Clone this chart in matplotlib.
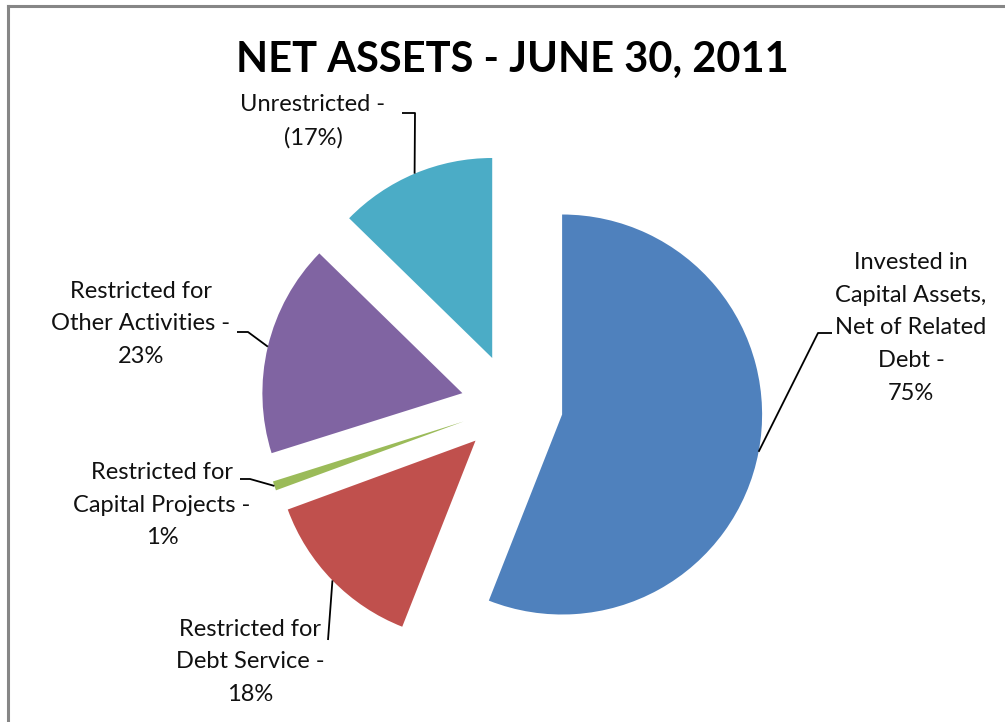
import numpy as np
import matplotlib
matplotlib.use("Agg")
import matplotlib.pyplot as plt
from matplotlib.lines import Line2D

plt.rcParams['font.family'] = ['Lato', 'DejaVu Sans']

# Net asset components (percent of total; unrestricted is a deficit, drawn by size)
categories = ['Invested in\nCapital Assets,\nNet of Related\nDebt -',
              'Restricted for\nDebt Service -',
              'Restricted for\nCapital Projects -',
              'Restricted for\nOther Activities -',
              'Unrestricted -']
values = [75, 18, 1, 23, -17]
colors = ['#4F81BD', '#C0504D', '#9BBB59', '#8064A2', '#4BACC6']

W, H = 1005, 722
CX, CY, R = 512, 405, 200   # pie centre / radius in pixels


def px(x, y):
    # pixel position (top-left origin) -> axes data units (radius = 1)
    return (x - CX) / R, (CY - y) / R


fig = plt.figure(figsize=(W / 100, H / 100), dpi=100)
ax = fig.add_axes([0, 0, 1, 1])

sizes = [abs(v) for v in values]
wedges, _ = ax.pie(sizes, colors=colors, startangle=90, counterclock=False,
                   explode=[0.255] * len(sizes), radius=1,
                   wedgeprops=dict(linewidth=0))

# pie() sets its own limits, so fix them afterwards
ax.set_xlim(-CX / R, (W - CX) / R)
ax.set_ylim((CY - H) / R, CY / R)
ax.set_aspect('equal')
ax.axis('off')

# label block centres (pixels)
label_pos = [(911, 328), (250, 662), (162, 505), (141, 324), (313, 121)]
# leader path points from text to the slice (pixels)
leader_pts = [[(832, 333), (818, 333)],
              [(328, 640)],
              [(240, 479), (250, 479)],
              [(237, 332), (248, 332)],
              [(402, 113), (415, 113)]]

for w, cat, v, (lx, ly), pts in zip(wedges, categories, values, label_pos, leader_pts):
    pct = f"({abs(v)}%)" if v < 0 else f"{v}%"
    ax.text(*px(lx, ly), cat + "\n" + pct, ha='center', va='center', fontsize=17,
            linespacing=1.7, color='#111111', multialignment='center')
    # anchor on the arc at the slice bisector
    mid = np.deg2rad((w.theta1 + w.theta2) / 2)
    ax_, ay_ = w.center[0] + w.r * np.cos(mid), w.center[1] + w.r * np.sin(mid)
    xs = [px(*p)[0] for p in pts] + [ax_]
    ys = [px(*p)[1] for p in pts] + [ay_]
    ax.plot(xs, ys, color='black', lw=1.3, solid_capstyle='butt')

ax.text(*px(512, 60), 'NET ASSETS - JUNE 30, 2011', ha='center', va='center',
        fontsize=30, fontweight='bold', color='black')

# chart frame (only the top and left edges fall inside the image)
top, left = 1 - 6 / H, 8 / W
fig.add_artist(Line2D([left, 1.05], [top, top], transform=fig.transFigure,
                      color='#868686', lw=2.2, solid_capstyle='projecting'))
fig.add_artist(Line2D([left, left], [top, -0.05], transform=fig.transFigure,
                      color='#868686', lw=2.2, solid_capstyle='projecting'))

fig.savefig('out.png', dpi=100)
